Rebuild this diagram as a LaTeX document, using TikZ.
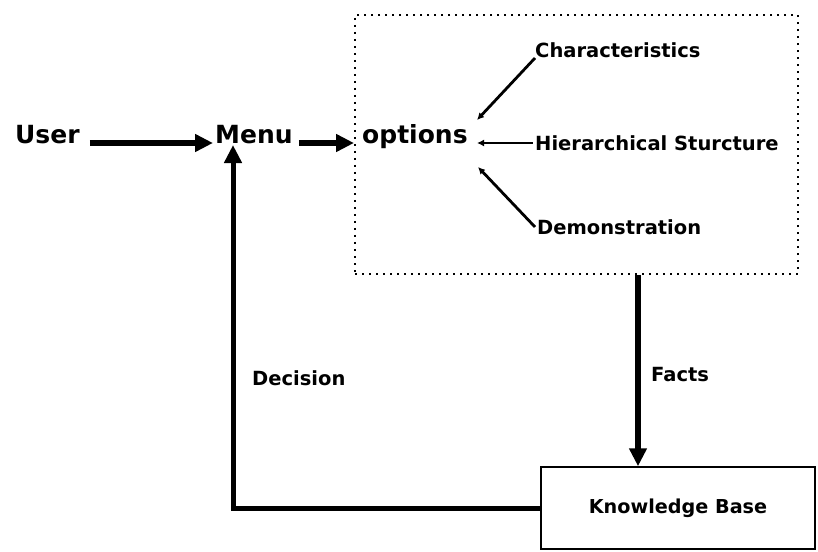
\documentclass[tikz,border=0pt]{standalone}
\usepackage{fontspec}
\setmainfont{DejaVu Sans}
\usetikzlibrary{arrows.meta}
\begin{document}
\begin{tikzpicture}[x=1pt,y=-1pt,
  bigtext/.style={font=\fontsize{25}{30}\selectfont\bfseries, inner sep=0pt},
  smalltext/.style={font=\fontsize{19.5}{23}\selectfont\bfseries, inner sep=0pt},
  flow/.style={line width=5.5pt, -{Triangle[length=18pt,width=17pt]}},
  branch/.style={line width=2.8pt, {Latex[length=7pt,width=7pt]}-},
  group/.style={draw, line width=1.6pt, dash pattern=on 1.6pt off 5.4pt},
  kbbox/.style={draw, line width=1.5pt, minimum width=274pt, minimum height=82pt,
    font=\fontsize{19.2}{23}\selectfont\bfseries}]
\useasboundingbox (0,0) rectangle (818,551);

% main row
\node[bigtext, anchor=base west] (user) at (15,143) {User};
\node[bigtext, anchor=base west] (menu) at (215,143) {Menu};
\node[bigtext, anchor=base west] (options) at (362,143) {options};

% option group
\node[group, minimum width=443pt, minimum height=259pt] (grp) at (576.5,144.5) {};
\node[smalltext, anchor=south west] (char) at (535,58) {Characteristics};
\node[smalltext, anchor=west] (hier) at (535,143) {Hierarchical Sturcture};
\node[smalltext, anchor=west] (demo) at (537,227) {Demonstration};
\coordinate (o1) at (477,120);
\coordinate (o2) at (477,143);
\coordinate (o3) at (478,167);
\draw[branch] (o1) -- (char.south west);
\draw[branch] (o2) -- ([xshift=-2pt]hier.west);
\draw[branch] (o3) -- ([xshift=-2pt]demo.west);

% knowledge base
\node[kbbox] (kb) at (678,508) {Knowledge Base};
\coordinate (factsx) at (638,0);

% connectors
\draw[flow] ([xshift=10pt]user.base east) -- ([xshift=-2pt]menu.base west);
\draw[flow] ([xshift=6pt]menu.base east) -- ([xshift=-8pt]options.base west);
\draw[flow] (grp.south -| factsx) -- (kb.north -| factsx);
\draw[flow, line width=5pt] (kb.west) -| ([xshift=18pt,yshift=-2pt]menu.base west);

% connector labels
\node[smalltext, anchor=west] (facts) at (651,375) {Facts};
\node[smalltext, anchor=west] (dec) at (252,378) {Decision};
\end{tikzpicture}
\end{document}
